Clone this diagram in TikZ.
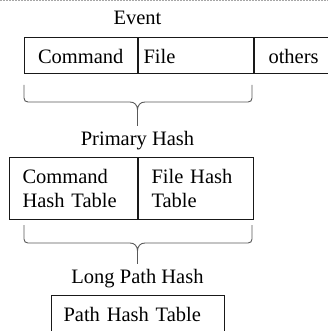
\documentclass[tikz,border=0pt]{standalone}
\usepackage{fontspec}
\setmainfont{Liberation Serif}
\usetikzlibrary{positioning}

\tikzset{
    field/.style={draw=black!90, line width=1pt, anchor=north west, inner ysep=0pt},
    heading/.style={anchor=base, inner sep=5pt},
    brace/.style={draw=black!65, line width=0.9pt},
    frame/.style={draw=black!35, line width=0.8pt, dash pattern=on 1.5pt off 1.5pt}
}

\begin{document}
\begin{tikzpicture}[x=1pt, y=-1pt, font=\fontsize{20.5}{24}\selectfont]
    \clip (0,0) rectangle (328,331);
    \draw[frame] (0,0.6) -- (328,0.6);

    \node[heading] (evtitle) at (137.5,25) {Event};
    \node[field, minimum height=36pt, minimum width=113.5pt, inner xsep=0pt, text height=17pt, text depth=0pt] (evcmd) at (23.5,37) {Command};
    \node[field, minimum height=36pt, text width=105pt, inner xsep=5pt, align=left, text height=17pt, text depth=0pt] (evfile) at (evcmd.north east) {File};
    \node[field, minimum height=36pt, text width=66pt, inner xsep=14pt, align=left, text height=17pt, text depth=0pt] (evother) at (evfile.north east) {others};

    \node[heading] (phtitle) at (137.5,145) {Primary Hash};
    \node[field, minimum height=62pt, text width=102pt, inner xsep=13pt, align=left] (phcmd) at (9,157) {Command\\Hash Table};
    \node[field, minimum height=62pt, text width=89pt, inner xsep=13pt, align=left] (phfile) at (phcmd.north east) {File Hash\\Table};

    \node[heading] (lptitle) at (137.5,283) {Long Path Hash};
    \node[field, minimum height=38pt, text width=149pt, inner xsep=12pt, align=left] (lppath) at (51,295) {Path Hash Table};

    \coordinate (evtip) at (137.5,110);
    \coordinate (phtip) at (137.5,251);

    \draw[brace] (24,85) -- (24,98) .. controls (24,100.5) and (25.5,102) .. (28,102) -- (130,102)
        .. controls (134.5,102) and (137.5,105) .. (evtip)
        .. controls (137.5,105) and (140.5,102) .. (145,102) -- (248,102)
        .. controls (250.5,102) and (252,100.5) .. (252,98) -- (252,85);
    \draw[brace] (evtip) -- (phtitle.north);

    \draw[brace] (24,225) -- (24,239) .. controls (24,241.5) and (25.5,243) .. (28,243) -- (130,243)
        .. controls (134.5,243) and (137.5,246) .. (phtip)
        .. controls (137.5,246) and (140.5,243) .. (145,243) -- (248,243)
        .. controls (250.5,243) and (252,241.5) .. (252,239) -- (252,225);
    \draw[brace] (phtip) -- (lptitle.north);
\end{tikzpicture}
\end{document}
